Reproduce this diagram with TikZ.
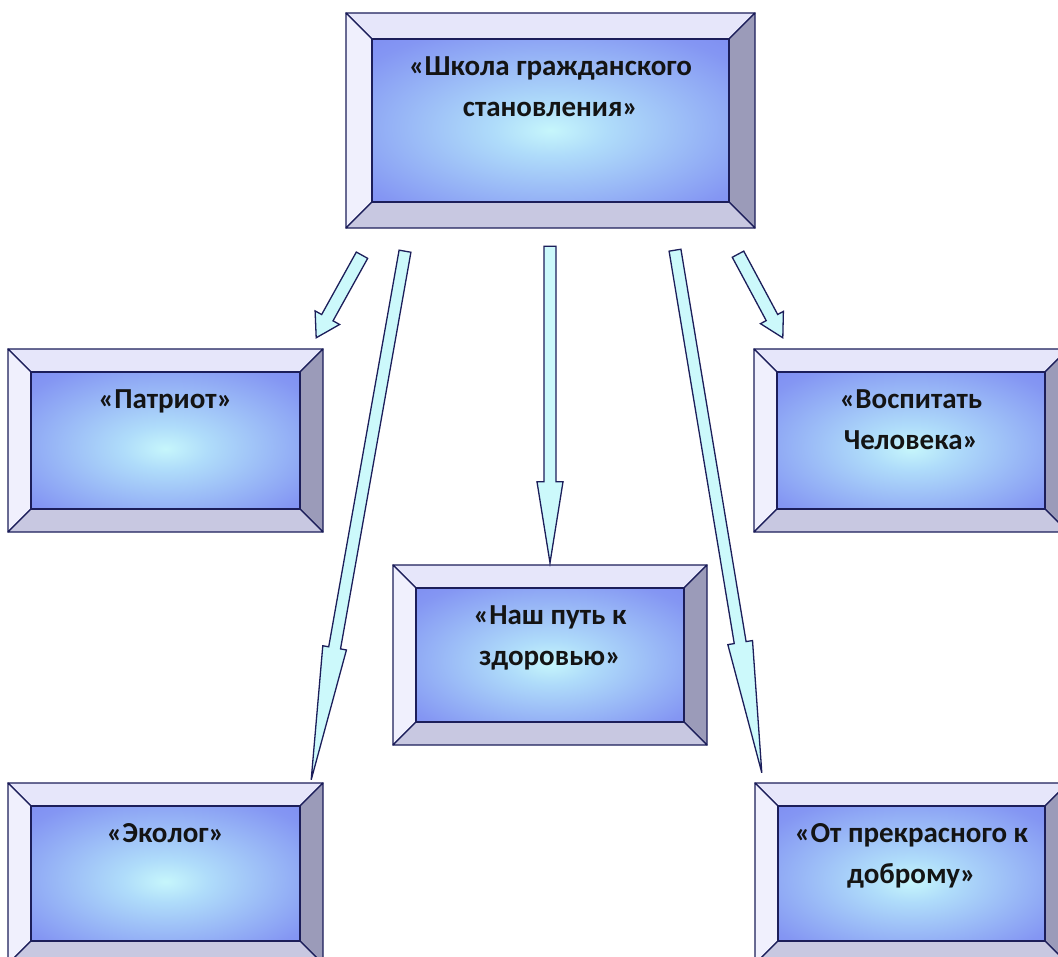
\documentclass[tikz,border=0pt]{standalone}
\usepackage{fontspec}
\setmainfont{Carlito}
\usetikzlibrary{calc}
\definecolor{edge}{RGB}{28,30,90}
\definecolor{bvtop}{RGB}{230,230,250}
\definecolor{bvleft}{RGB}{240,240,253}
\definecolor{bvright}{RGB}{155,155,185}
\definecolor{bvbot}{RGB}{200,200,225}
\definecolor{glow}{RGB}{198,246,251}
\definecolor{glow2}{RGB}{175,220,250}
\definecolor{midblue}{RGB}{132,150,243}
\definecolor{deepblue}{RGB}{108,115,237}
\definecolor{arrowfill}{RGB}{204,249,251}
\pgfdeclareradialshading{glowbox}{\pgfpoint{0bp}{-3bp}}{color(0bp)=(glow); color(8bp)=(glow2); color(32bp)=(midblue); color(58bp)=(deepblue); color(75bp)=(deepblue)}
\tikzset{
  bevel/.style={draw=edge, line width=1.2pt, line join=round},
  face/.style={shading=glowbox},
  boxlabel/.style={font=\fontsize{29}{41}\selectfont\bfseries, align=center, inner sep=0pt, anchor=north, text=black!92},
  frame/.style={draw=none, inner sep=0pt},
  blockarrow/.style={draw=edge, fill=arrowfill, line width=1.3pt, line join=miter},
}
% name, x1, y1, x2, y2, bevel, text
\newcommand\bbox[7]{%
  \filldraw[bevel, fill=bvtop] (#2,#3) -- (#4,#3) -- (#4-#6,#3+#6) -- (#2+#6,#3+#6) -- cycle;
  \filldraw[bevel, fill=bvleft] (#2,#3) -- (#2+#6,#3+#6) -- (#2+#6,#5-#6) -- (#2,#5) -- cycle;
  \filldraw[bevel, fill=bvright] (#4,#3) -- (#4,#5) -- (#4-#6,#5-#6) -- (#4-#6,#3+#6) -- cycle;
  \filldraw[bevel, fill=bvbot] (#2,#5) -- (#2+#6,#5-#6) -- (#4-#6,#5-#6) -- (#4,#5) -- cycle;
  \shade[face] (#2+#6,#3+#6) rectangle (#4-#6,#5-#6);
  \draw[edge, line width=1.4pt] (#2+#6,#3+#6) rectangle (#4-#6,#5-#6);
  \node[frame, minimum width={#4pt-#2pt}, minimum height={#5pt-#3pt}] (#1) at ({(#2+#4)/2},{(#3+#5)/2}) {};
  \node[boxlabel] (#1-t) at ({(#2+#4)/2},{#3+#6+17}) {#7};
}
% start, tip, shaft half width, head half width, head length
\newcommand\barrow[5]{%
  \coordinate (hb) at ($(#2)!#5pt!(#1)$);
  \draw[blockarrow] ($(#1)!#3pt!90:(#2)$) -- ($(hb)!#3pt!90:(#2)$) -- ($(hb)!#4pt!90:(#2)$) -- (#2)
    -- ($(hb)!#4pt!-90:(#2)$) -- ($(hb)!#3pt!-90:(#2)$) -- ($(#1)!#3pt!-90:(#2)$) -- cycle;
}
\begin{document}
\begin{tikzpicture}[x=1pt, y=-1pt]
\clip (0,0) rectangle (1058,957);
\fill[white] (0,0) rectangle (1058,957);

\bbox{top}{346}{13}{755}{228}{26}{«Школа гражданского\\становления»}
\bbox{patriot}{8}{349}{323}{532}{23}{«Патриот»}
\bbox{vosp}{754}{349}{1068}{532}{23}{«Воспитать\\Человека»}
\bbox{nash}{393}{565}{707}{745}{23}{«Наш путь к\\здоровью»}
\bbox{ekolog}{8}{783}{323}{964}{23}{«Эколог»}
\bbox{ot}{755}{783}{1068}{964}{23}{«От прекрасного к\\доброму»}

\coordinate (s1) at ($(top.south)+(-188.5,27)$);
\coordinate (s2) at ($(top.south)+(-145.5,23)$);
\coordinate (s3) at ($(top.south)+(-0.5,18)$);
\coordinate (s4) at ($(top.south)+(124.5,22)$);
\coordinate (s5) at ($(top.south)+(187.5,26)$);
\coordinate (t1) at ($(patriot.north east)+(-7,-11)$);
\coordinate (t2) at ($(ekolog.north east)+(-12,-3)$);
\coordinate (t3) at ($(nash.north)+(0,-2)$);
\coordinate (t4) at ($(ot.north west)+(7,-10)$);
\coordinate (t5) at ($(vosp.north west)+(29,-11)$);

\barrow{s1}{t1}{6.5}{14}{23}
\barrow{s2}{t2}{6}{12}{134}
\barrow{s3}{t3}{6}{13}{81}
\barrow{s4}{t4}{6}{12.5}{132}
\barrow{s5}{t5}{6.5}{13}{23}
\end{tikzpicture}
\end{document}
